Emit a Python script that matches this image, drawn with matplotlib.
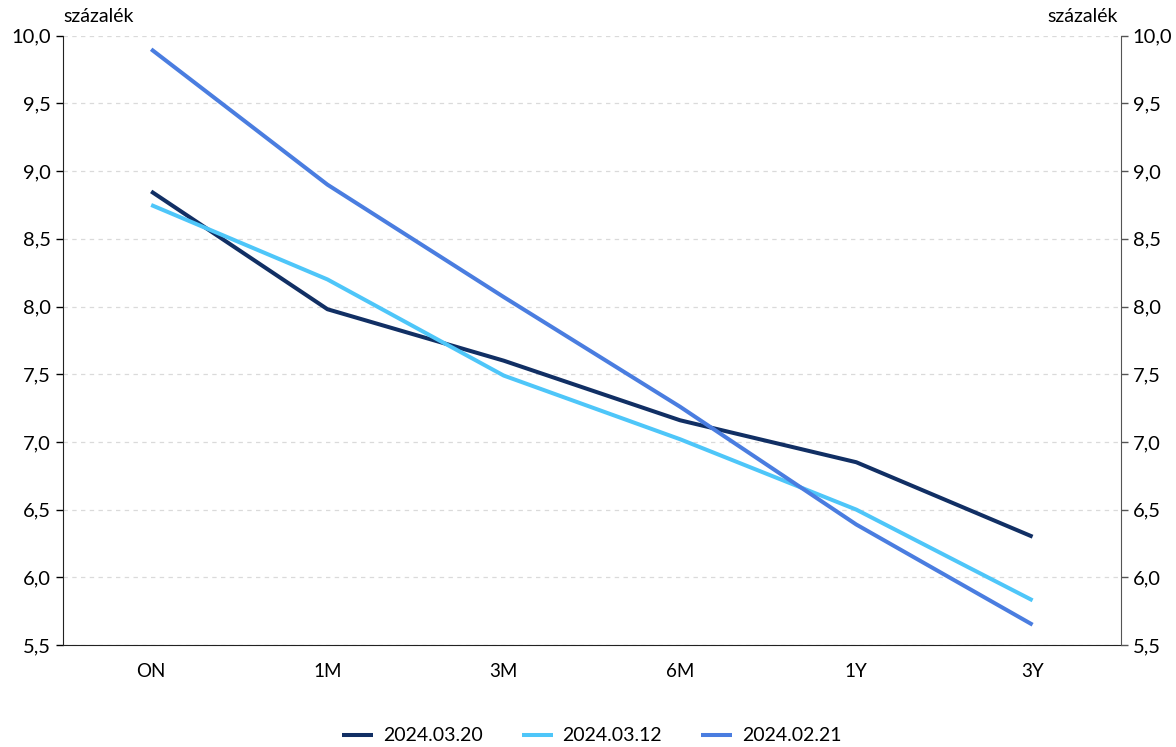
import matplotlib.pyplot as plt
from matplotlib.ticker import FuncFormatter
import numpy as np

plt.rcParams['font.family'] = ['Lato', 'DejaVu Sans']

tenors = ['ON', '1M', '3M', '6M', '1Y', '3Y']
y_0320 = [8.85, 7.98, 7.60, 7.16, 6.85, 6.30]
y_0312 = [8.75, 8.20, 7.49, 7.02, 6.50, 5.83]
y_0221 = [9.90, 8.90, 8.07, 7.26, 6.39, 5.65]
labels = ['2024.03.20', '2024.03.12', '2024.02.21']
colors = ['#112f64', '#4ec6f9', '#4a7de0']
yticks = np.arange(5.5, 10.01, 0.5)

fig = plt.figure(figsize=(11.76, 7.47), dpi=100)
ax = fig.add_axes([0.0536, 0.1365, 0.8994, 0.8157])

x = np.arange(len(tenors))
for ys, lab, c in zip([y_0320, y_0312, y_0221], labels, colors):
    ax.plot(x, ys, color=c, lw=2.9, label=lab, solid_capstyle='butt')

ax.set_xlim(-0.5, len(tenors) - 0.5)
ax.set_ylim(5.5, 10.0)
ax.set_xticks(x)
ax.set_xticklabels(tenors)
ax.set_yticks(yticks)
fmt = FuncFormatter(lambda v, p: f'{v:.1f}'.replace('.', ','))
ax.yaxis.set_major_formatter(fmt)
ax.tick_params(axis='x', length=0, pad=13, labelsize=13.5)
ax.tick_params(axis='y', length=5, width=1, labelsize=14.5, direction='out')
ax.grid(axis='y', color='#dadada', linestyle=(0, (3.5, 3.5)), lw=0.9)
ax.spines['top'].set_visible(False)
ax.spines['right'].set_visible(False)
ax.spines['left'].set_color('#222222')
ax.spines['bottom'].set_color('#222222')

ax2 = ax.twinx()
ax2.set_ylim(5.5, 10.0)
ax2.set_yticks(yticks)
ax2.yaxis.set_major_formatter(fmt)
ax2.tick_params(axis='y', length=5, width=1, labelsize=14.5, direction='out',
                colors='#555555', labelcolor='black')
for s in ['top', 'left', 'bottom']:
    ax2.spines[s].set_visible(False)
ax2.spines['right'].set_color('#555555')

fig.text(0.0536, 0.966, 'százalék', fontsize=14, ha='left', va='bottom')
fig.text(0.951, 0.966, 'százalék', fontsize=14, ha='right', va='bottom')

ax.legend(loc='center', bbox_to_anchor=(0.5, -0.149), ncol=3, frameon=False,
          fontsize=14, handlelength=1.6, columnspacing=2.0, handletextpad=0.5,
          borderpad=0.1)

fig.savefig('out.png', dpi=100)
